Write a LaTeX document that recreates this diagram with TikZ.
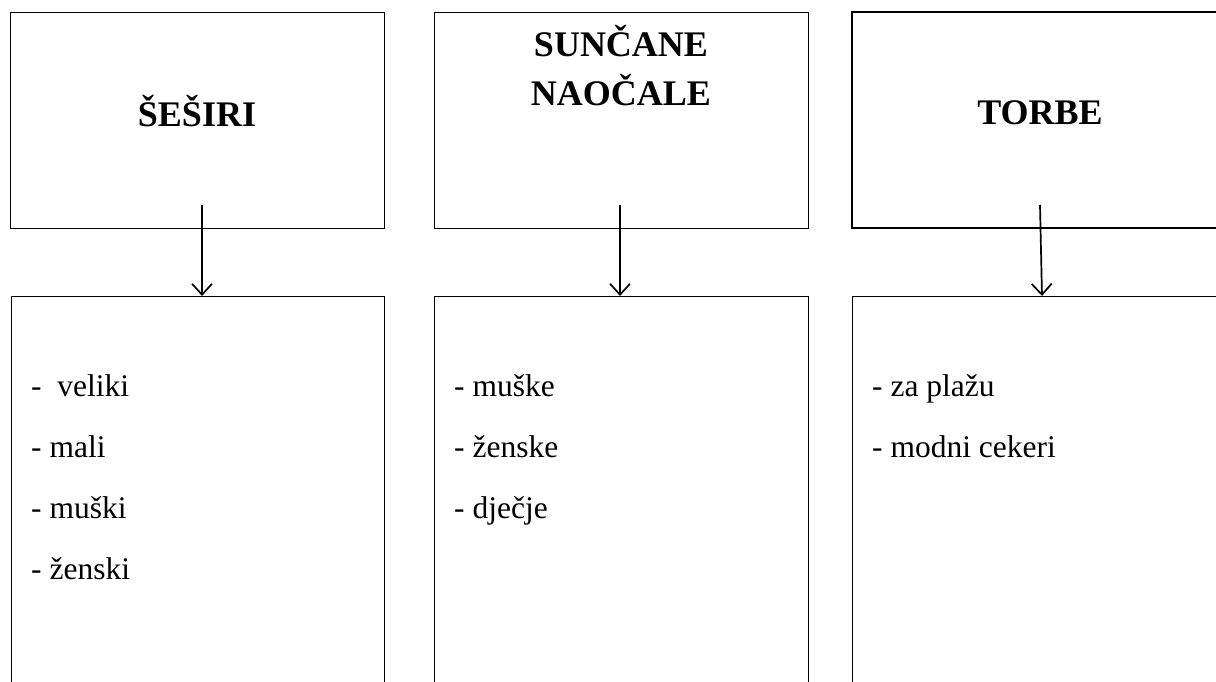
\documentclass[tikz,border=0pt]{standalone}
\usepackage{fontspec}
\setmainfont{Liberation Serif}
\usetikzlibrary{arrows.meta}
\tikzset{
  boxthin/.style={draw=black, line width=0.9pt, rectangle, inner sep=0pt, outer sep=0pt},
  boxthick/.style={draw=black, line width=1.5pt, rectangle, inner sep=0pt, outer sep=0pt},
  titletext/.style={inner sep=0pt, anchor=base, font=\fontsize{36}{43}\selectfont\bfseries},
  itemtext/.style={inner sep=0pt, anchor=base west, font=\fontsize{31.5}{38}\selectfont},
  conn/.style={line width=1.7pt, -{Straight Barb[length=11pt,width=20pt,line width=1.7pt]}}
}
\begin{document}
\begin{tikzpicture}[x=1pt,y=-1pt]
\useasboundingbox (0,0) rectangle (1216,682);
\clip (0,0) rectangle (1216,682);
% top boxes
\node[boxthin, minimum width=374pt, minimum height=216pt] (t1) at (197,120) {};
\node[boxthin, minimum width=374pt, minimum height=216pt] (t2) at (621,120) {};
\node[boxthick, minimum width=376pt, minimum height=216pt] (t3) at (1040,120) {};
% titles
\node[titletext] (h1) at (197,126.5) {ŠEŠIRI};
\node[titletext] (h2a) at (621,57) {SUNČANE};
\node[titletext] (h2b) at (621,106) {NAOČALE};
\node[titletext] (h3) at (1040,125) {TORBE};
% bottom boxes (continue beyond the lower edge)
\node[boxthin, minimum width=373pt, minimum height=500pt] (b1) at (197.5,546) {};
\node[boxthin, minimum width=374pt, minimum height=500pt] (b2) at (621,546) {};
\node[boxthin, minimum width=376pt, minimum height=500pt] (b3) at (1040,546) {};
% list items
\node[itemtext] (l11) at (31,396.5) {-\ \ veliki};
\node[itemtext] (l12) at (31,457.5) {- mali};
\node[itemtext] (l13) at (31,518) {- muški};
\node[itemtext] (l14) at (31,579) {- ženski};
\node[itemtext] (l21) at (454,396.5) {- muške};
\node[itemtext] (l22) at (454,457.5) {- ženske};
\node[itemtext] (l23) at (454,518) {- dječje};
\node[itemtext] (l31) at (872,396.5) {- za plažu};
\node[itemtext] (l32) at (872,457.5) {- modni cekeri};
% connectors
\coordinate (s1) at (202,205);
\coordinate (s2) at (620,205);
\coordinate (s3) at (1040,205);
\coordinate (e3) at (1042,296);
\draw[conn] (s1) -- (s1 |- b1.north);
\draw[conn] (s2) -- (s2 |- b2.north);
\draw[conn] (s3) -- (e3);
\end{tikzpicture}
\end{document}
